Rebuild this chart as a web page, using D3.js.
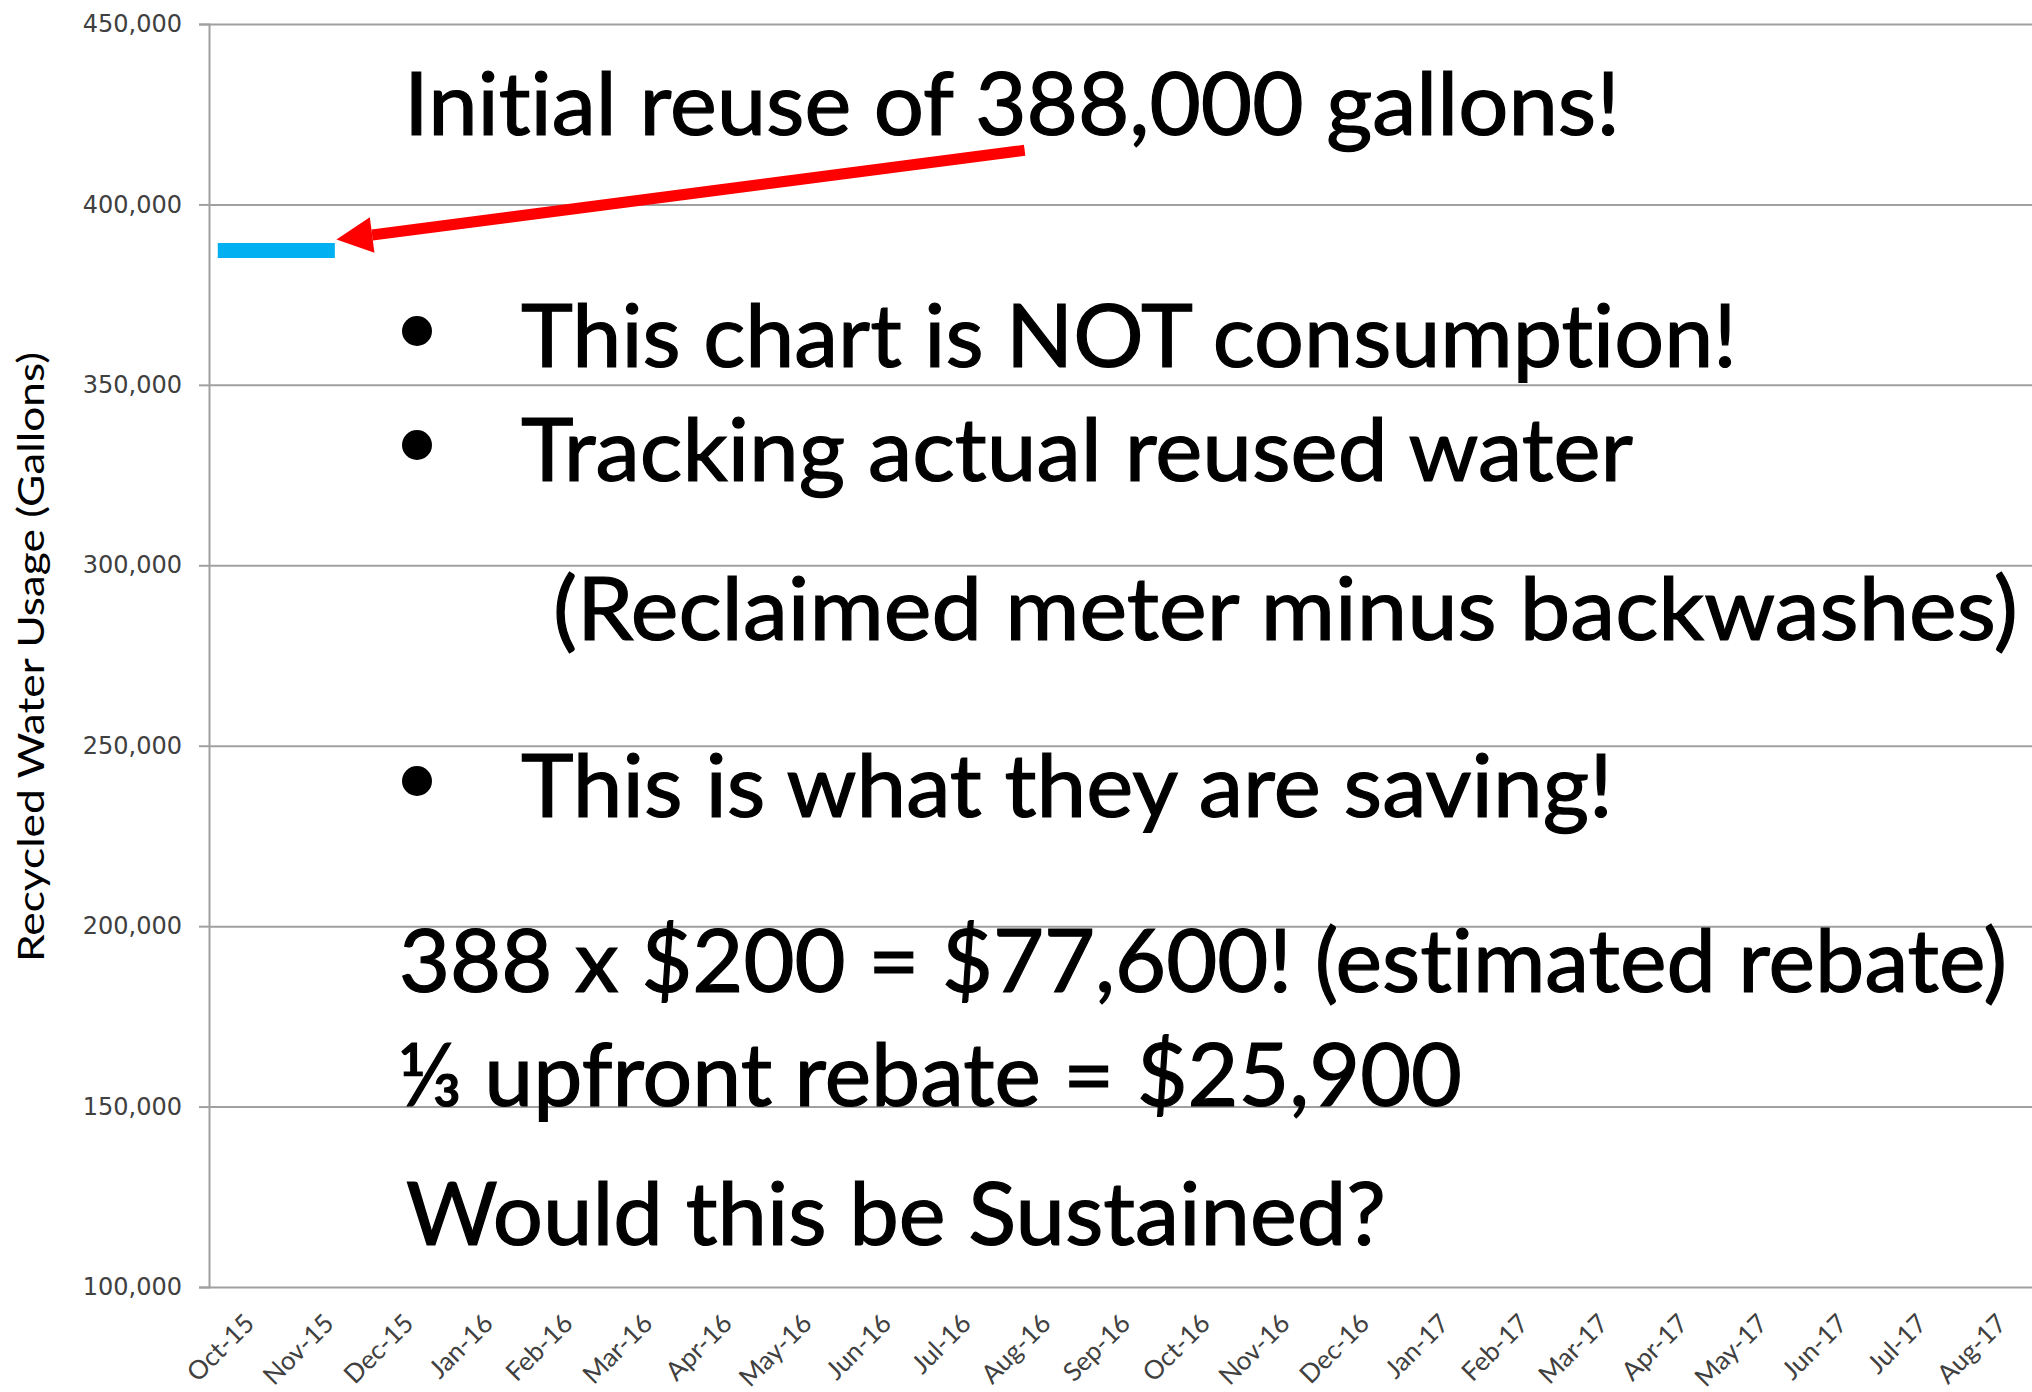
<!DOCTYPE html>
<html>
<head>
<meta charset="utf-8">
<script src="https://cdn.jsdelivr.net/npm/d3@7/dist/d3.min.js"></script>
<style>
  body { margin: 0; background: #fff; }
  svg { display: block; }
  text { font-variant-ligatures: none; font-feature-settings: "liga" 0, "clig" 0; }
</style>
</head>
<body>
<svg id="chart"></svg>
<script>
const months = ["Oct-15","Nov-15","Dec-15","Jan-16","Feb-16","Mar-16","Apr-16","May-16",
  "Jun-16","Jul-16","Aug-16","Sep-16","Oct-16","Nov-16","Dec-16","Jan-17","Feb-17",
  "Mar-17","Apr-17","May-17","Jun-17","Jul-17","Aug-17"];
const usageMonths = ["Oct-15","Nov-15"];
const usageValues = [387200, 387200];
const yTicks = [100000,150000,200000,250000,300000,350000,400000,450000];
const yTitle = "Recycled Water Usage (Gallons)";
const noteLines = [
  "Initial reuse of 388,000 gallons!",
  "This chart is NOT consumption!",
  "Tracking actual reused water",
  "(Reclaimed meter minus backwashes)",
  "This is what they are saving!",
  "388 x $200 = $77,600! (estimated rebate)",
  "\u2153 upfront rebate = $25,900",
  "Would this be Sustained?"
];
const bulletLines = [1, 2, 4];

const W = 2032, H = 1392;
const plotLeft = 209, plotTop = 24, plotBottom = 1287, plotRight = 2041;
const font = "Lato, 'Open Sans', 'Noto Sans', sans-serif";

const svg = d3.select('#chart').attr('width', W).attr('height', H);
svg.append('rect').attr('width', W).attr('height', H).attr('fill', '#fff');

const x = d3.scaleBand().domain(months).range([plotLeft, plotRight]);
const y = d3.scaleLinear().domain([100000, 450000]).range([plotBottom, plotTop]);
const bw = x.bandwidth();

// gridlines + y axis
const yAxis = svg.append('g')
  .attr('transform', `translate(${plotLeft},0)`)
  .call(d3.axisLeft(y).tickValues(yTicks).tickSize(10).tickPadding(17)
    .tickFormat(d3.format(',')));
yAxis.select('.domain').attr('stroke', '#a0a0a0').attr('stroke-width', 2);
yAxis.selectAll('.tick line').attr('stroke', '#a0a0a0').attr('stroke-width', 2);
yAxis.selectAll('.tick text')
  .attr('font-family', "'DejaVu Sans', Verdana, sans-serif")
  .attr('font-size', 24).attr('fill', '#404040');
yAxis.selectAll('.tick').append('line')
  .attr('x1', 0).attr('x2', plotRight - plotLeft)
  .attr('stroke', '#a0a0a0').attr('stroke-width', 2);

// x axis labels
const xAxis = svg.append('g')
  .attr('transform', `translate(0,${plotBottom})`)
  .call(d3.axisBottom(x).tickSize(0).tickPadding(0));
xAxis.select('.domain').remove();
xAxis.selectAll('.tick text')
  .attr('font-family', font).attr('font-size', 26).attr('fill', '#404040')
  .attr('text-anchor', 'end')
  .attr('dy', 0).attr('y', 0)
  .attr('transform', 'translate(7,38) rotate(-45)');

// series
const usage = usageMonths.map((m, i) => ({ m, v: usageValues[i] }));
const line = d3.line()
  .x((d, i) => x(d.m) + (i === 0 ? bw * 0.11 : bw * 0.58))
  .y(d => y(d.v));
svg.append('path').datum(usage)
  .attr('d', line)
  .attr('fill', 'none').attr('stroke', '#00b0f0').attr('stroke-width', 15);

// arrow annotation
const tip = [x(usageMonths[1]) + bw * 0.6, y(usageValues[1]) - 11];
const tail = [x("Aug-16") + bw * 0.24, y(415000)];
const dx = tail[0] - tip[0], dy = tail[1] - tip[1];
const len = Math.hypot(dx, dy), ux = dx / len, uy = dy / len;
const headLen = 36, headHalf = 18;
const base = [tip[0] + ux * headLen, tip[1] + uy * headLen];
svg.append('line')
  .attr('x1', tail[0]).attr('y1', tail[1])
  .attr('x2', base[0]).attr('y2', base[1])
  .attr('stroke', '#ff0000').attr('stroke-width', 11);
svg.append('path')
  .attr('d', `M${tip[0]},${tip[1]}L${base[0] - uy * headHalf},${base[1] + ux * headHalf}` +
    `L${base[0] + uy * headHalf},${base[1] - ux * headHalf}Z`)
  .attr('fill', '#ff0000');

// y title
svg.append('text')
  .attr('transform', 'translate(44,657) rotate(-90)')
  .attr('text-anchor', 'middle')
  .attr('font-family', font).attr('font-size', 37).attr('fill', '#000')
  .attr('textLength', 610).attr('lengthAdjust', 'spacingAndGlyphs')
  .text(yTitle);

// notes
const noteLayout = [
  { x: 404, y: 135, w: 1216 },
  { x: 521, y: 367, w: 1216 },
  { x: 521, y: 481, w: 1112 },
  { x: 553, y: 640, w: 1465 },
  { x: 521, y: 817, w: 1092 },
  { x: 399, y: 992, w: 1608 },
  { x: 398, y: 1106, w: 1064 },
  { x: 406, y: 1245, w: 980 }
];
svg.append('g').selectAll('text').data(noteLines).join('text')
  .attr('x', (d, i) => noteLayout[i].x)
  .attr('y', (d, i) => noteLayout[i].y)
  .attr('textLength', (d, i) => noteLayout[i].w)
  .attr('lengthAdjust', 'spacingAndGlyphs')
  .attr('font-family', font).attr('font-size', 87).attr('fill', '#000')
  .attr('stroke', '#000').attr('stroke-width', 1.2)
  .text(d => d);

svg.append('g').selectAll('circle').data(bulletLines).join('circle')
  .attr('cx', 417)
  .attr('cy', i => noteLayout[i].y - 36)
  .attr('r', 15)
  .attr('fill', '#000');
</script>
</body>
</html>
